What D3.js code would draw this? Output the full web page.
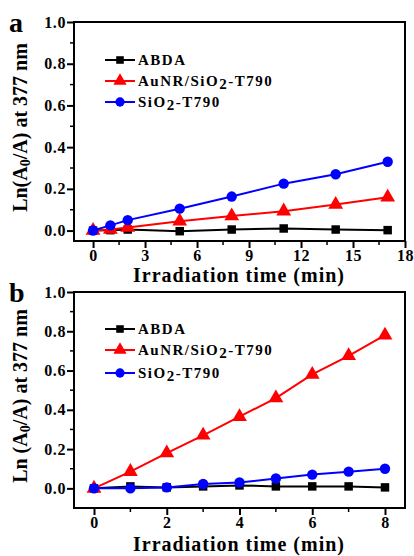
<!DOCTYPE html>
<html>
<head>
<meta charset="utf-8">
<script src="https://cdn.jsdelivr.net/npm/d3@7"></script>
<style>
body { margin: 0; background: #fff; }
text { font-family: "Liberation Serif", "Times New Roman", serif; font-weight: bold; }
</style>
</head>
<body>
<script>
// panel a
var timeA = [0, 1, 2, 5, 8, 11, 14, 17];
var abdaA = [0, 0.002, 0.005, -0.003, 0.005, 0.01, 0.005, 0.002];
var aunrA = [0, 0.005, 0.015, 0.045, 0.07, 0.093, 0.125, 0.16];
var sio2A = [0, 0.025, 0.05, 0.105, 0.163, 0.225, 0.27, 0.33];
var xTicksA = [0, 3, 6, 9, 12, 15, 18];

// panel b
var timeB = [0, 1, 2, 3, 4, 5, 6, 7, 8];
var abdaB = [0, 0.01, 0.005, 0.01, 0.015, 0.01, 0.01, 0.01, 0.005];
var aunrB = [0, 0.085, 0.18, 0.27, 0.365, 0.46, 0.58, 0.675, 0.78];
var sio2B = [0, 0, 0.005, 0.022, 0.03, 0.05, 0.07, 0.085, 0.1];
var xTicksB = [0, 2, 4, 6, 8];

var yTicks = [0, 0.2, 0.4, 0.6, 0.8, 1.0];
var seriesNames = ["ABDA", "AuNR/SiO2-T790", "SiO2-T790"];
var colors = ["#000000", "#ff0000", "#0000ff"];
var shapes = [d3.symbolSquare, d3.symbolTriangle, d3.symbolCircle];
var sizes = [72, 95, 85];

var svg = d3.select("body").append("svg").attr("width", 414).attr("height", 556);

function panel(opt) {
  var g = svg.append("g");
  var x = d3.scaleLinear().domain(opt.xDom).range([74, 405]);
  var y = d3.scaleLinear().domain(opt.yDom).range([opt.bottom, opt.top]);

  // minor ticks
  var minorY = d3.range(0.1, 1.0, 0.2);
  g.selectAll(".my").data(minorY).enter().append("line")
    .attr("x1", 74).attr("x2", 70)
    .attr("y1", function(d) { return y(d); }).attr("y2", function(d) { return y(d); })
    .attr("stroke", "#000").attr("stroke-width", 1.5);
  g.selectAll(".mx").data(opt.minorX).enter().append("line")
    .attr("y1", opt.bottom).attr("y2", opt.bottom + 4)
    .attr("x1", function(d) { return x(d); }).attr("x2", function(d) { return x(d); })
    .attr("stroke", "#000").attr("stroke-width", 1.5);

  var yAxis = d3.axisLeft(y).tickValues(yTicks).tickSize(7).tickFormat(d3.format(".1f"));
  var xAxis = d3.axisBottom(x).tickValues(opt.xTicks).tickSize(7).tickFormat(d3.format("d"));
  var ya = g.append("g").attr("transform", "translate(74,0)").call(yAxis);
  var xa = g.append("g").attr("transform", "translate(0," + opt.bottom + ")").call(xAxis);
  [ya, xa].forEach(function(a) {
    a.select(".domain").remove();
    a.selectAll("line").attr("stroke-width", 2);
    a.selectAll("text").attr("font-size", 16).attr("fill", "#000").attr("letter-spacing", 0.6);
  });
  ya.selectAll("text").attr("x", -8);
  xa.selectAll("text").attr("y", 9);

  g.append("rect").attr("x", 74).attr("y", opt.top)
    .attr("width", 331).attr("height", opt.bottom - opt.top)
    .attr("fill", "none").attr("stroke", "#000").attr("stroke-width", 2);

  var line = d3.line().x(function(d) { return x(d[0]); }).y(function(d) { return y(d[1]); });
  opt.series.forEach(function(vals, i) {
    var pts = opt.time.map(function(t, j) { return [t, vals[j]]; });
    g.append("path").datum(pts).attr("d", line)
      .attr("fill", "none").attr("stroke", colors[i]).attr("stroke-width", 2);
    g.selectAll(".p" + i).data(pts).enter().append("path")
      .attr("d", d3.symbol().type(shapes[i]).size(sizes[i]))
      .attr("transform", function(d) { return "translate(" + x(d[0]) + "," + y(d[1]) + ")"; })
      .attr("fill", colors[i]);
  });

  // legend
  seriesNames.forEach(function(n, i) {
    var ly = opt.legY[i];
    g.append("line").attr("x1", 105).attr("x2", 135).attr("y1", ly).attr("y2", ly)
      .attr("stroke", colors[i]).attr("stroke-width", 2);
    g.append("path").attr("d", d3.symbol().type(shapes[i]).size(sizes[i] * 0.8))
      .attr("transform", "translate(120," + ly + ")").attr("fill", colors[i]);
    var t = g.append("text").attr("x", 138).attr("y", ly + 5).attr("font-size", 15)
      .attr("letter-spacing", 1.5);
    if (n.indexOf("SiO2") >= 0) {
      var parts = n.split("SiO2");
      t.append("tspan").text(parts[0] + "SiO");
      t.append("tspan").attr("dy", 3).text("2");
      t.append("tspan").attr("dy", -3).text(parts[1]);
    } else {
      t.text(n);
    }
  });

  // axis titles
  g.append("text").attr("x", 239).attr("y", opt.xTitleY).attr("text-anchor", "middle")
    .attr("font-size", 20).attr("letter-spacing", 1).text("Irradiation time (min)");
  var yt = g.append("text")
    .attr("transform", "translate(27," + ((opt.top + opt.bottom) / 2 - 4) + ") rotate(-90)")
    .attr("text-anchor", "middle").attr("font-size", 20);
  yt.append("tspan").text(opt.yPre + "(A");
  yt.append("tspan").attr("font-size", 14).attr("dy", 3).text("0");
  yt.append("tspan").attr("dy", -3).text("/A) at 377 nm");

  g.append("text").attr("x", 9).attr("y", opt.top + 10).attr("font-size", 28).text(opt.letter);
}

panel({
  time: timeA, series: [abdaA, aunrA, sio2A], xDom: [-1.1, 18], yDom: [-0.05, 1.0],
  top: 22, bottom: 241, xTicks: xTicksA, minorX: d3.range(1.5, 18, 3),
  legY: [60, 81, 102], xTitleY: 282, yPre: "Ln", letter: "a"
});
panel({
  time: timeB, series: [abdaB, aunrB, sio2B], xDom: [-0.55, 8.55], yDom: [-0.1, 1.0],
  top: 292, bottom: 508, xTicks: xTicksB, minorX: [1, 3, 5, 7],
  legY: [329, 350, 373], xTitleY: 551, yPre: "Ln ", letter: "b"
});
</script>
</body>
</html>
